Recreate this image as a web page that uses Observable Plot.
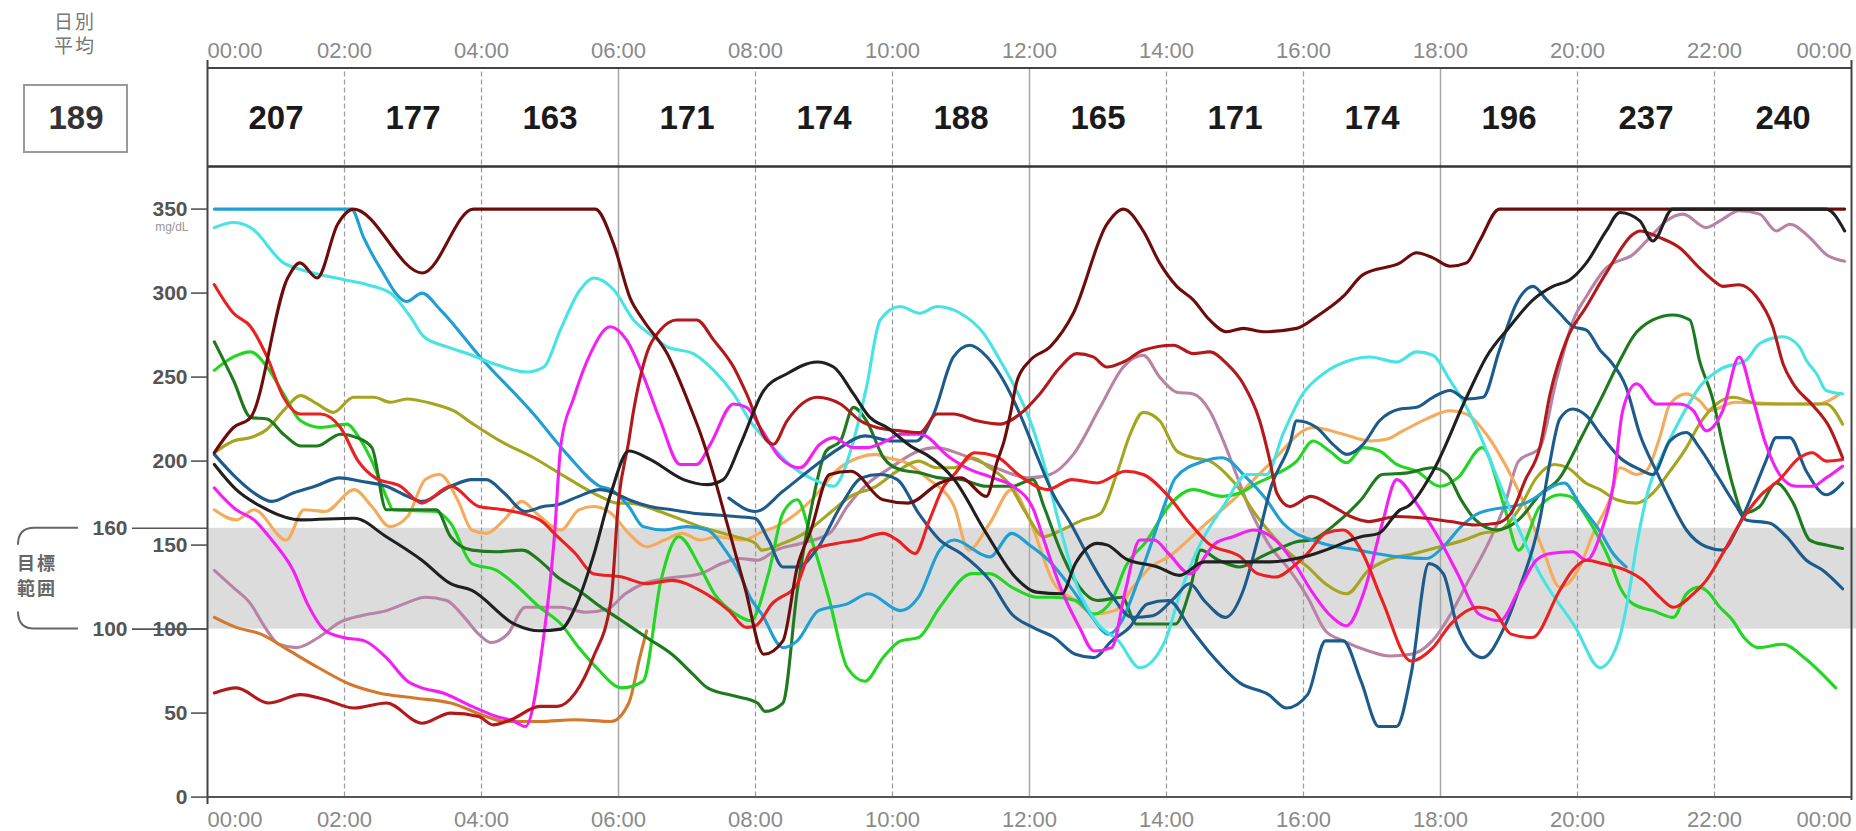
<!DOCTYPE html>
<html><head><meta charset="utf-8">
<script src="https://cdn.jsdelivr.net/npm/d3@7"></script>
<script src="https://cdn.jsdelivr.net/npm/@observablehq/plot@0.6"></script>
<style>
body{margin:0;background:#fff}
#chart{position:relative;width:1856px;height:831px;overflow:hidden}
</style>
</head><body><div id="chart"></div>
<script>
// ---------- data ----------
const tickHours = [0,2,4,6,8,10,12,14,16,18,20,22,24];
const tickLabels = ["00:00","02:00","04:00","06:00","08:00","10:00","12:00","14:00","16:00","18:00","20:00","22:00","00:00"];
const solidGridHours = [6,12,18];
const dashedGridHours = [2,4,8,10,14,16,20,22];
const periodStarts = [0,2,4,6,8,10,12,14,16,18,20,22];
const periodAverages = [207,177,163,171,174,188,165,171,174,196,237,240];
const dailyAverage = 189;
const yTicks = [0,50,100,150,200,250,300,350];
const targetRange = [100,160];

const mauve = [[0.1,135],[0.37,125],[0.63,115],[0.84,101],[1.04,91],[1.3,89],[1.62,95],[1.93,104],[2.24,108],[2.61,111],[2.87,115],[3.18,119],[3.49,117],[3.75,107],[3.96,97],[4.14,92],[4.38,97],[4.64,113],[4.9,113],[5.16,113],[5.52,110],[5.84,112],[6.1,121],[6.36,127],[6.67,130],[7.19,133],[7.51,139],[7.77,142],[8.03,141],[8.3,147],[8.66,151],[9.08,157],[9.34,173],[9.65,187],[9.97,196],[10.38,206],[10.64,208],[11.0,204],[11.5,196],[12.0,190],[12.3,192],[12.64,204],[13.03,232],[13.37,256],[13.66,263],[13.9,250],[14.15,241],[14.39,240],[14.63,230],[14.83,212],[15.02,192],[15.22,171],[15.5,150],[15.8,135],[16.06,119],[16.32,99],[16.58,93],[16.95,87],[17.26,84],[17.57,85],[17.88,93],[18.15,109],[18.41,129],[18.72,153],[18.93,173],[19.14,200],[19.45,208],[19.69,248],[19.94,284],[20.13,298],[20.42,315],[20.81,323],[21.1,335],[21.3,343],[21.54,347],[21.88,339],[22.08,343],[22.36,349],[22.66,347],[22.9,337],[23.1,341],[23.39,333],[23.63,323],[23.9,319]];
const chocolate = [[0.1,107],[0.42,101],[0.78,97],[1.2,87],[1.62,77],[2.09,67],[2.5,62],[3.02,59],[3.55,56],[4.07,48],[4.33,45],[4.85,45],[5.37,46],[5.89,45],[6.15,56],[6.31,83],[6.41,99]];
const sandy = [[0.1,171],[0.42,165],[0.68,171],[1.15,153],[1.41,171],[1.72,170],[2.14,183],[2.4,173],[2.66,161],[2.92,167],[3.18,189],[3.39,192],[3.65,177],[3.86,159],[4.07,157],[4.33,165],[4.59,176],[4.8,169],[5.16,159],[5.42,171],[5.63,173],[5.89,169],[6.15,157],[6.41,149],[6.67,153],[6.93,157],[7.19,153],[7.45,155],[7.82,153],[8.1,158],[8.3,161],[8.82,177],[9.2,195],[9.5,202],[9.76,204],[9.92,202],[10.2,199],[10.5,190],[10.9,173],[11.11,147],[11.42,163],[11.74,183],[12.0,165],[12.36,127],[12.67,117],[12.94,109],[13.25,111],[13.51,125],[13.77,137],[14.03,143],[14.5,160],[15.0,178],[15.5,198],[16.14,220],[16.58,216],[16.97,212],[17.21,213],[17.45,218],[17.79,225],[18.14,230],[18.38,228],[18.67,216],[18.86,204],[19.06,189],[19.26,171],[19.5,147],[19.74,125],[19.86,127],[20.03,137],[20.23,157],[20.47,177],[20.62,196],[20.86,192],[21.0,194],[21.2,214],[21.35,234],[21.59,240],[21.78,236],[21.93,230],[22.3,235],[23.0,234],[23.5,234],[23.83,240]];
const olive = [[0.1,205],[0.38,212],[0.63,214],[0.87,219],[1.11,230],[1.36,239],[1.6,234],[1.84,229],[2.13,238],[2.43,238],[2.67,235],[2.91,237],[3.3,234],[3.59,230],[3.88,222],[4.27,212],[4.76,202],[5.25,190],[5.73,179],[5.98,175],[6.15,175],[6.67,169],[7.19,161],[7.71,155],[8.0,151],[8.09,147],[8.4,151],[8.71,157],[9.08,169],[9.39,179],[9.76,185],[10.07,194],[10.38,200],[10.64,196],[10.9,196],[11.16,202],[11.42,196],[11.69,187],[11.95,169],[12.21,155],[12.47,159],[12.78,165],[13.04,169],[13.27,192],[13.47,216],[13.66,229],[13.9,224],[14.15,206],[14.39,202],[14.63,200],[14.88,192],[15.07,183],[15.22,173],[15.5,158],[15.8,145],[16.06,137],[16.32,127],[16.63,121],[16.95,135],[17.21,141],[17.62,145],[17.99,149],[18.35,153],[18.61,157],[18.87,159],[19.14,171],[19.4,190],[19.66,198],[19.86,196],[20.12,187],[20.33,183],[20.57,177],[20.86,175],[21.1,181],[21.35,194],[21.59,208],[21.78,222],[22.03,234],[22.27,238],[22.66,234],[23.15,234],[23.63,234],[23.87,222]];
const lime = [[0.1,254],[0.38,262],[0.63,265],[0.87,256],[1.11,240],[1.36,224],[1.65,220],[2.04,222],[2.18,216],[2.4,200],[2.62,178],[2.71,171],[3.34,170],[3.55,163],[3.86,139],[4.22,135],[4.48,127],[4.85,113],[5.16,103],[5.42,89],[5.68,77],[6.05,65],[6.36,69],[6.62,129],[6.88,155],[7.19,137],[7.4,121],[7.71,109],[7.93,105],[8.19,133],[8.4,169],[8.61,177],[8.82,153],[9.08,117],[9.34,77],[9.6,69],[9.86,83],[10.12,93],[10.38,95],[10.69,113],[11.16,133],[11.42,133],[11.74,125],[12.1,119],[12.36,119],[12.67,117],[12.94,109],[13.2,117],[13.4,137],[13.72,153],[14.03,173],[14.39,183],[14.81,179],[15.07,181],[15.33,187],[15.59,192],[15.9,200],[16.14,212],[16.38,206],[16.63,199],[16.87,208],[17.11,206],[17.36,198],[17.65,194],[17.99,185],[18.25,190],[18.61,208],[18.93,173],[19.14,147],[19.45,173],[19.74,180],[19.89,179],[20.13,167],[20.33,153],[20.47,141],[20.62,125],[20.81,115],[21.1,111],[21.4,107],[21.59,121],[21.78,125],[21.88,123],[22.08,113],[22.27,105],[22.43,95],[22.64,89],[23.0,91],[23.31,83],[23.77,65]];
const darkGreen = [[0.1,271],[0.38,248],[0.63,226],[0.87,225],[1.11,216],[1.36,209],[1.6,209],[1.94,216],[2.18,214],[2.4,208],[2.61,171],[3.02,171],[3.34,171],[3.55,155],[3.86,147],[4.22,146],[4.59,147],[4.9,139],[5.11,131],[5.42,123],[5.68,115],[6.05,105],[6.41,95],[6.78,85],[7.09,73],[7.3,65],[7.71,60],[8.03,56],[8.14,51],[8.4,56],[8.61,123],[8.82,173],[9.03,206],[9.24,212],[9.43,232],[9.62,224],[9.87,202],[10.11,195],[10.4,193],[10.69,190],[11.0,189],[11.37,185],[11.74,185],[12.05,189],[12.21,173],[12.47,145],[12.73,125],[12.99,117],[13.35,119],[13.56,103],[13.87,103],[14.13,103],[14.34,123],[14.5,147],[14.76,141],[15.07,137],[15.38,143],[15.7,149],[15.9,152],[16.11,153],[16.48,163],[16.84,177],[17.15,192],[17.52,193],[17.88,196],[18.1,192],[18.3,177],[18.51,165],[18.82,159],[19.14,165],[19.45,180],[19.74,190],[20.03,212],[20.33,236],[20.62,260],[20.81,274],[21.1,284],[21.39,287],[21.64,284],[21.78,260],[21.98,236],[22.12,210],[22.27,185],[22.42,169],[22.66,173],[22.9,187],[23.15,175],[23.39,153],[23.63,150],[23.87,148]];
const skyBlue = [[0.1,350],[2.1,350],[2.28,333],[2.52,315],[2.91,295],[3.13,300],[3.4,290],[3.98,262],[4.76,228],[5.25,204],[5.73,185],[5.89,183],[6.15,173],[6.36,161],[6.67,159],[6.99,161],[7.3,159],[7.56,147],[7.77,133],[7.92,119],[8.09,109],[8.4,89],[8.61,93],[8.92,111],[9.34,115],[9.65,121],[10.12,111],[10.38,119],[10.69,147],[10.9,153],[11.42,143],[11.74,157],[12.0,150],[12.3,140],[12.6,125],[12.9,108],[13.15,97],[13.35,105],[13.55,125],[13.77,150],[13.98,175],[14.13,190],[14.55,200],[14.81,202],[15.17,190],[15.44,178],[15.7,163],[16.2,152],[16.8,147],[17.4,143],[17.8,142],[18.04,149],[18.3,161],[18.56,169],[19.24,175],[19.81,187],[20.02,175],[20.33,158],[20.52,145],[20.71,137]];
const cyan = [[0.1,339],[0.38,342],[0.63,339],[1.11,318],[1.36,314],[1.99,308],[2.33,305],[2.67,300],[2.96,286],[3.16,274],[3.5,268],[3.79,264],[4.18,258],[4.66,253],[4.91,256],[5.15,278],[5.44,302],[5.64,309],[5.93,302],[6.22,284],[6.51,274],[6.71,268],[7.09,264],[7.39,254],[7.68,240],[7.92,224],[8.26,208],[8.5,198],[8.85,189],[9.14,185],[9.43,212],[9.62,244],[9.82,284],[10.11,292],[10.4,288],[10.65,292],[10.99,288],[11.33,276],[11.57,260],[11.76,246],[12.0,225],[12.2,200],[12.45,160],[12.7,125],[13.0,103],[13.3,93],[13.61,77],[13.98,93],[14.18,119],[14.45,147],[14.86,175],[15.17,192],[15.46,192],[15.7,216],[15.99,240],[16.29,252],[16.68,260],[16.97,262],[17.36,259],[17.65,265],[17.89,263],[18.14,248],[18.38,232],[18.57,216],[18.77,196],[18.96,177],[19.45,133],[19.97,101],[20.33,77],[20.6,93],[20.75,121],[20.86,149],[21.05,185],[21.2,200],[21.5,225],[21.8,245],[22.1,255],[22.46,260],[22.66,270],[23.0,274],[23.24,268],[23.34,260],[23.49,252],[23.63,242],[23.87,240]];
const navyA = [[0.1,204],[0.42,190],[0.68,181],[0.94,176],[1.25,181],[1.57,185],[1.93,190],[2.24,188],[2.61,185],[2.92,179],[3.13,176],[3.55,185],[3.86,189],[4.07,189],[4.33,181],[4.64,170],[4.9,173],[5.11,174],[5.42,179],[5.73,183],[5.94,181],[6.15,177],[6.46,173],[6.78,171],[7.09,169],[7.4,168],[7.71,167],[7.99,166],[8.19,153],[8.4,137],[8.61,137],[8.92,149],[9.24,173],[9.55,190],[9.81,192],[10.07,189],[10.38,169],[10.69,153],[11.0,145],[11.42,129],[11.74,109],[12.05,101],[12.36,95],[12.67,85],[12.94,83],[13.2,93],[13.46,101],[13.72,115],[14.03,117],[14.34,101],[14.65,85],[15.07,68],[15.49,61],[15.75,53],[16.06,61],[16.32,93],[16.58,93],[16.84,69],[17.1,42],[17.36,42],[17.57,73],[17.83,139],[18.04,133],[18.25,101],[18.61,83],[18.93,101],[19.14,123],[19.45,165],[19.6,200],[19.74,225],[19.93,231],[20.13,227],[20.37,214],[20.62,202],[20.91,195],[21.1,192],[21.35,212],[21.59,217],[21.78,208],[22.03,192],[22.32,173],[22.46,165],[22.81,163],[23.05,155],[23.34,141],[23.58,135],[23.87,124]];
const navyB = [[7.61,178],[8.0,170],[8.4,182],[8.8,195],[9.2,207],[9.6,215],[10.0,212],[10.35,212],[10.6,228],[10.89,262],[11.13,269],[11.38,262],[11.62,248],[11.86,228],[12.1,204],[12.35,180],[12.6,163],[12.9,140],[13.2,120],[13.5,107],[13.8,108],[14.1,118],[14.34,127],[14.55,117],[14.86,107],[15.12,123],[15.33,153],[15.53,185],[15.8,210],[15.9,224],[16.19,220],[16.43,210],[16.63,204],[16.87,210],[17.11,224],[17.41,231],[17.65,232],[17.89,238],[18.14,242],[18.38,237],[18.62,238],[18.86,266],[19.11,294],[19.35,304],[19.55,296],[19.74,288],[19.94,280],[20.13,278],[20.33,266],[20.47,260],[20.71,244],[20.91,216],[21.15,194],[21.35,177],[21.59,159],[21.88,149],[22.12,147],[22.32,159],[22.56,181],[22.75,200],[22.9,214],[23.1,214],[23.34,194],[23.63,180],[23.87,187]];
const magenta = [[0.1,184],[0.42,171],[0.68,165],[0.94,153],[1.25,135],[1.46,115],[1.72,99],[1.98,95],[2.29,93],[2.61,83],[2.92,69],[3.13,65],[3.44,62],[3.86,54],[4.22,48],[4.48,45],[4.64,42],[4.9,93],[5.06,153],[5.16,210],[5.35,238],[5.59,264],[5.88,280],[6.12,272],[6.37,250],[6.61,224],[6.9,198],[7.14,198],[7.34,210],[7.68,234],[7.87,232],[8.07,220],[8.36,202],[8.65,196],[8.94,210],[9.14,214],[9.43,208],[9.62,208],[9.91,212],[10.11,216],[10.4,216],[10.84,202],[11.08,196],[11.47,190],[11.76,185],[12.06,171],[12.21,153],[12.47,123],[12.73,101],[12.94,87],[13.2,89],[13.4,123],[13.61,153],[13.82,153],[14.03,145],[14.34,133],[14.71,151],[14.97,155],[15.28,159],[15.59,153],[15.9,137],[16.11,123],[16.37,109],[16.63,102],[16.89,123],[17.15,163],[17.36,189],[17.68,173],[17.99,153],[18.25,133],[18.56,109],[18.87,105],[19.14,123],[19.4,141],[19.6,145],[19.93,146],[20.13,141],[20.37,161],[20.52,185],[20.66,230],[20.86,246],[21.15,234],[21.49,234],[21.69,230],[21.88,218],[22.12,230],[22.36,262],[22.56,237],[22.75,210],[22.95,192],[23.19,185],[23.43,185],[23.63,190],[23.87,197]];
const red = [[0.1,305],[0.38,288],[0.63,280],[0.87,262],[1.11,238],[1.36,228],[1.65,228],[1.94,220],[2.2,200],[2.45,190],[2.82,185],[3.13,175],[3.55,185],[3.96,173],[4.33,171],[4.85,165],[5.11,155],[5.37,145],[5.63,133],[6.05,131],[6.41,127],[6.78,129],[7.19,123],[7.61,111],[7.87,101],[8.0,102],[8.24,115],[8.61,127],[8.82,147],[9.18,151],[9.5,153],[9.86,157],[10.07,153],[10.33,145],[10.54,165],[10.75,185],[10.9,192],[11.2,205],[11.5,203],[11.9,190],[12.26,183],[12.62,189],[12.99,187],[13.4,194],[13.66,192],[14.03,179],[14.34,163],[14.61,151],[15.08,143],[15.33,133],[15.59,131],[15.9,139],[16.06,145],[16.32,157],[16.58,159],[16.84,147],[17.15,117],[17.57,81],[17.89,89],[18.15,103],[18.56,113],[18.77,111],[19.03,97],[19.34,95],[19.74,123],[19.93,135],[20.13,141],[20.37,139],[20.71,135],[20.96,129],[21.2,119],[21.4,113],[21.69,121],[21.88,129],[22.12,145],[22.37,163],[22.66,179],[22.95,189],[23.24,202],[23.43,205],[23.63,200],[23.87,201]];
const fireBrick = [[0.1,62],[0.42,65],[0.89,56],[1.36,61],[1.72,58],[2.14,53],[2.61,56],[3.13,44],[3.55,50],[3.96,48],[4.17,43],[4.43,46],[4.85,54],[5.11,54],[5.37,62],[5.63,83],[5.89,117],[6.0,176],[6.15,212],[6.22,230],[6.42,265],[6.61,278],[6.85,284],[7.14,284],[7.39,272],[7.68,256],[7.87,240],[8.17,212],[8.26,210],[8.46,224],[8.9,238],[9.24,234],[9.53,224],[9.77,220],[10.11,218],[10.4,217],[10.65,228],[10.89,228],[11.23,224],[11.57,222],[11.86,228],[12.15,240],[12.45,256],[12.69,264],[12.93,262],[13.13,256],[13.37,259],[13.66,266],[14.1,269],[14.39,264],[14.63,265],[14.88,258],[15.12,246],[15.36,224],[15.51,200],[15.61,181],[15.8,173],[16.11,179],[16.43,173],[16.69,167],[16.95,164],[17.36,167],[17.78,166],[18.15,164],[18.51,162],[18.82,163],[19.03,169],[19.24,189],[19.45,208],[19.6,240],[19.84,272],[20.13,292],[20.42,312],[20.81,335],[20.91,337],[21.2,333],[21.49,327],[21.78,315],[21.97,308],[22.12,304],[22.36,305],[22.61,298],[22.85,280],[23.0,258],[23.15,246],[23.44,233],[23.68,220],[23.87,202]];
const darkMaroon = [[0.1,205],[0.38,220],[0.63,226],[1.17,309],[1.35,318],[1.6,309],[1.9,341],[2.13,350],[3.14,312],[3.88,350],[5.66,350],[5.93,329],[6.17,297],[6.36,284],[6.71,264],[7.05,232],[7.2,216],[7.38,193],[7.53,171],[7.85,124],[8.12,85],[8.4,93],[8.61,137],[8.81,159],[9.08,192],[9.39,194],[9.86,177],[10.23,175],[10.69,187],[11.0,190],[11.37,179],[11.53,200],[11.63,212],[11.72,228],[11.82,248],[12.01,260],[12.3,268],[12.64,288],[13.13,341],[13.37,350],[13.66,337],[13.9,318],[14.15,304],[14.39,296],[14.63,284],[14.88,277],[15.12,279],[15.41,277],[15.9,279],[16.19,286],[16.58,298],[16.87,311],[17.41,318],[17.65,324],[17.89,321],[18.14,316],[18.38,318],[18.57,331],[18.86,350],[23.9,350]];
const black = [[0.1,198],[0.42,183],[0.78,173],[1.36,165],[2.14,166],[2.61,155],[3.13,141],[3.55,127],[3.86,123],[4.48,103],[4.85,99],[5.16,100],[5.37,113],[5.63,143],[5.89,181],[6.15,206],[6.46,201],[6.95,189],[7.29,186],[7.53,189],[7.78,210],[8.12,242],[8.46,252],[8.9,259],[9.14,256],[9.43,240],[9.67,226],[9.92,220],[10.3,208],[10.49,204],[10.9,189],[11.37,157],[11.79,131],[12.1,122],[12.47,121],[12.67,139],[12.99,151],[13.14,150],[13.4,142],[13.87,137],[14.19,132],[14.55,140],[15.0,140],[15.5,140],[16.01,143],[16.32,147],[16.84,155],[17.1,157],[17.41,171],[17.52,173],[17.89,194],[18.38,238],[18.67,262],[19.01,280],[19.35,296],[19.64,304],[19.89,308],[20.13,318],[20.42,337],[20.62,348],[20.91,343],[21.1,331],[21.39,350],[23.63,350],[23.9,337]];

const seriesOrder = [
  {points: mauve, color: "#b884a6"},
  {points: chocolate, color: "#d4782c"},
  {points: sandy, color: "#f4ab5c"},
  {points: olive, color: "#a5a520"},
  {points: lime, color: "#22d622"},
  {points: darkGreen, color: "#1f7a1f"},
  {points: skyBlue, color: "#209fd4"},
  {points: cyan, color: "#48e4e4"},
  {points: navyA, color: "#1c5b8b"},
  {points: navyB, color: "#1c5b8b"},
  {points: magenta, color: "#f41ff4"},
  {points: red, color: "#ec2020"},
  {points: fireBrick, color: "#b3191b"},
  {points: darkMaroon, color: "#6e0c0c"},
  {points: black, color: "#202020"}
];

// ---------- layout ----------
const W = 1856, H = 831;
const xLeft = 207, xRight = 1851, yTop = 166, yZero = 796.6, y350 = 208.6;
const pxPerUnit = (yZero - y350) / 350;
const vFromPx = py => (yZero - py) / pxPerUnit;
const hFromPx = px => (px - xLeft) * 24 / (xRight - xLeft);
const yMax = vFromPx(yTop);
const headerTopV = vFromPx(67.5);

const periods = periodStarts.map((s, i) => ({mid: s + 1, avg: periodAverages[i]}));
const ticks = tickHours.map((h, i) => ({h, label: tickLabels[i]}));
const labelFont = "'Liberation Sans', Arial, sans-serif";
const numFont = "'Liberation Sans', Arial, sans-serif";

const tickText = (subset, anchor, frameAnchor, dy) => Plot.text(subset, {
  x: "h", text: "label", frameAnchor, lineAnchor: "middle", dy, textAnchor: anchor,
  fill: "#8a8a8a", fontSize: 22, fontFamily: labelFont
});

const lineMarks = seriesOrder.map(s => Plot.line(s.points, {
  x: d => d[0], y: d => d[1], stroke: s.color, strokeWidth: 3.1,
  curve: "monotone-x", strokeLinejoin: "round", strokeLinecap: "round"
}));

const chart = Plot.plot({
  width: W, height: H,
  marginLeft: xLeft, marginRight: W - xRight, marginTop: yTop, marginBottom: H - yZero,
  x: {domain: [0, 24], axis: null},
  y: {domain: [0, yMax], axis: null},
  style: {background: "#fff", fontFamily: labelFont, overflow: "visible"},
  marks: [
    // target band
    Plot.rect([targetRange], {x1: () => 0, x2: () => hFromPx(1856), y1: d => d[0], y2: d => d[1], fill: "#dcdcdc"}),
    // grid lines (through header)
    Plot.ruleX(dashedGridHours, {y1: () => 0, y2: () => headerTopV, stroke: "#9a9a9a", strokeWidth: 1.2, strokeDasharray: "5,3"}),
    Plot.ruleX(solidGridHours, {y1: () => 0, y2: () => headerTopV, stroke: "#a8a8a8", strokeWidth: 1.5}),
    // data lines
    ...lineMarks,
    // frame
    Plot.ruleY([headerTopV], {x1: () => 0, x2: () => 24, stroke: "#444", strokeWidth: 2}),
    Plot.ruleY([yMax], {x1: () => 0, x2: () => 24, stroke: "#333", strokeWidth: 2.5}),
    Plot.ruleY([0], {x1: () => 0, x2: () => 24, stroke: "#555", strokeWidth: 2}),
    Plot.ruleX([0], {y1: () => vFromPx(804), y2: () => vFromPx(60), stroke: "#444", strokeWidth: 2}),
    Plot.ruleX([24], {y1: () => vFromPx(800), y2: () => vFromPx(60), stroke: "#444", strokeWidth: 2}),
    // y axis ticks and labels
    Plot.ruleY(yTicks, {x1: () => hFromPx(191), x2: () => 0, stroke: "#555", strokeWidth: 1.6}),
    Plot.text(yTicks, {x: () => hFromPx(187), y: d => d, text: d => String(d), textAnchor: "end",
      fontSize: 21, fontWeight: "bold", fill: "#555", fontFamily: labelFont}),
    // target range labels
    Plot.ruleY(targetRange, {x1: () => hFromPx(132), x2: () => 0, stroke: "#555", strokeWidth: 1.6}),
    Plot.text(targetRange, {x: () => hFromPx(127), y: d => d, text: d => String(d), textAnchor: "end",
      fontSize: 21, fontWeight: "bold", fill: "#555", fontFamily: labelFont}),
    Plot.text(["mg/dL"], {x: () => hFromPx(188), y: () => vFromPx(227), text: d => d, textAnchor: "end",
      fontSize: 12, fill: "#999", fontFamily: labelFont}),
    // top and bottom tick labels
    tickText(ticks.slice(0, 1), "start", "top", 50 - yTop),
    tickText(ticks.slice(1, -1), "middle", "top", 50 - yTop),
    tickText(ticks.slice(-1), "end", "top", 50 - yTop),
    tickText(ticks.slice(0, 1), "start", "bottom", 819 - yZero),
    tickText(ticks.slice(1, -1), "middle", "bottom", 819 - yZero),
    tickText(ticks.slice(-1), "end", "bottom", 819 - yZero),
    // period averages
    Plot.text(periods, {x: "mid", text: d => String(d.avg), frameAnchor: "top", lineAnchor: "middle", dy: 118 - yTop,
      fontSize: 33, fontWeight: "bold", fill: "#1a1a1a", fontFamily: numFont, ariaLabel: "period-avg"}),
    // daily average box
    Plot.rect([dailyAverage], {x1: () => hFromPx(24), x2: () => hFromPx(127), y1: () => vFromPx(152), y2: () => vFromPx(85),
      fill: "none", stroke: "#9a9a9a", strokeWidth: 2}),
    Plot.text([dailyAverage], {x: () => hFromPx(75.5), y: () => vFromPx(118), text: d => String(d),
      fontSize: 33, fontWeight: "bold", fill: "#333", fontFamily: numFont, ariaLabel: "daily-avg"})
  ]
});

document.getElementById("chart").appendChild(chart);

// ---------- condense the average numbers, side annotations ----------
const svg = d3.select(chart);
svg.selectAll('g[aria-label="period-avg"] text').attr("textLength", 45).attr("lengthAdjust", "spacingAndGlyphs");
svg.selectAll('g[aria-label="daily-avg"] text').attr("textLength", 42).attr("lengthAdjust", "spacingAndGlyphs");

const cjk = "'Noto Sans CJK JP', 'Noto Sans CJK SC', sans-serif";
const side = svg.append("g").attr("font-family", cjk);
// two-line labels as one text element with tspans
const addTwoLine = (lines, x, y1, gap, size, weight, fill) => {
  const t = side.append("text").attr("text-anchor", "middle")
    .attr("font-size", size).attr("font-weight", weight).attr("fill", fill).attr("letter-spacing", 2);
  lines.forEach((s, i) => t.append("tspan").attr("x", x).attr("y", y1 + i * gap).attr("dy", "0.35em").text(s));
};
addTwoLine(["日別", "平均"], 75, 22, 24, 19, "normal", "#777");
addTwoLine(["目標", "範囲"], 37, 564, 25, 18, "bold", "#666");
const yTopBand = chart.scale("y").apply(targetRange[1]);
const yBotBand = chart.scale("y").apply(targetRange[0]);
side.append("path")
  .attr("d", `M 78 ${yTopBand} L 34 ${yTopBand} Q 18 ${yTopBand} 18 ${yTopBand + 17}`)
  .attr("fill", "none").attr("stroke", "#666").attr("stroke-width", 2);
side.append("path")
  .attr("d", `M 18 ${yBotBand - 17} Q 18 ${yBotBand} 34 ${yBotBand} L 78 ${yBotBand}`)
  .attr("fill", "none").attr("stroke", "#666").attr("stroke-width", 2);
</script>
</body></html>
